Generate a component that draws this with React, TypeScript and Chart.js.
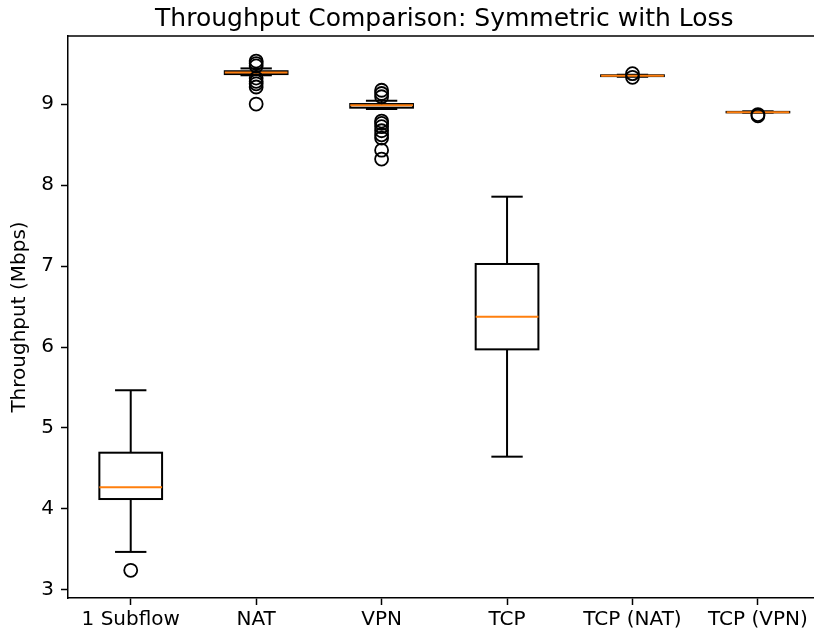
import { useEffect, useRef } from 'react';
import { Chart, registerables } from 'chart.js';

Chart.register(...registerables);

const categories = ['1 Subflow', 'NAT', 'VPN', 'TCP', 'TCP (NAT)', 'TCP (VPN)'];
const whiskerLow = [3.47, 9.355, 8.94, 4.646, 9.337, 8.893];
const q1 = [4.123, 9.37, 8.955, 5.971, 9.345, 8.897];
const median = [4.268, 9.39, 8.985, 6.374, 9.35, 8.9];
const q3 = [4.695, 9.405, 9.0, 7.025, 9.355, 8.903];
const whiskerHigh = [5.466, 9.44, 9.04, 7.856, 9.363, 8.91];
const outliers = [
  [3.243],
  [9.53, 9.5, 9.47, 9.32, 9.28, 9.25, 9.21, 9.0],
  [9.17, 9.13, 9.09, 8.79, 8.76, 8.72, 8.67, 8.62, 8.58, 8.43, 8.32],
  [],
  [9.375, 9.33],
  [8.87, 8.855],
];
const yTicks = [3, 4, 5, 6, 7, 8, 9];
const titleText = 'Throughput Comparison: Symmetric with Loss';
const yLabel = 'Throughput (Mbps)';

const FONT = 'DejaVu Sans';
const BOX_HALF = 0.25;
const CAP_HALF = 0.125;
const LW = 2;

const boxPlugin = {
  id: 'boxes',
  beforeDatasetsDraw(chart: any) {
    const { ctx, scales } = chart;
    const x = scales.x;
    const y = scales.y;
    const line = (x1: number, y1: number, x2: number, y2: number) => {
      ctx.beginPath();
      ctx.moveTo(x1, y1);
      ctx.lineTo(x2, y2);
      ctx.stroke();
    };
    ctx.save();
    ctx.lineWidth = LW;
    ctx.strokeStyle = '#000';
    categories.forEach((_, i) => {
      const c = i + 1;
      const xl = x.getPixelForValue(c - BOX_HALF);
      const xr = x.getPixelForValue(c + BOX_HALF);
      const cl = x.getPixelForValue(c - CAP_HALF);
      const cr = x.getPixelForValue(c + CAP_HALF);
      const xc = x.getPixelForValue(c);
      const yq1 = y.getPixelForValue(q1[i]);
      const yq3 = y.getPixelForValue(q3[i]);
      const ywl = y.getPixelForValue(whiskerLow[i]);
      const ywh = y.getPixelForValue(whiskerHigh[i]);
      const ym = y.getPixelForValue(median[i]);
      ctx.strokeStyle = '#000';
      line(xc, yq3, xc, ywh);
      line(xc, yq1, xc, ywl);
      line(cl, ywh, cr, ywh);
      line(cl, ywl, cr, ywl);
      ctx.strokeRect(xl, yq3, xr - xl, yq1 - yq3);
      ctx.strokeStyle = '#ff7f0e';
      line(xl, ym, xr, ym);
    });
    ctx.restore();
  },
  afterDraw(chart: any) {
    const { ctx, chartArea, scales } = chart;
    ctx.save();
    ctx.strokeStyle = '#000';
    ctx.lineWidth = 1.5;
    ctx.beginPath();
    ctx.moveTo(chartArea.left, chartArea.top);
    ctx.lineTo(chartArea.right, chartArea.top);
    ctx.stroke();
    ctx.fillStyle = '#000';
    ctx.font = `25px "${FONT}"`;
    ctx.textAlign = 'center';
    ctx.textBaseline = 'alphabetic';
    ctx.fillText(titleText, scales.x.getPixelForValue(3.5), 26);
    ctx.restore();
  },
};

export default function App() {
  const ref = useRef<HTMLCanvasElement | null>(null);
  useEffect(() => {
    if (!ref.current) return;
    Chart.defaults.font.family = FONT;
    const points: { x: number; y: number }[] = [];
    outliers.forEach((arr, i) => arr.forEach((v) => points.push({ x: i + 1, y: v })));
    const chart = new Chart(ref.current, {
      type: 'scatter',
      data: {
        datasets: [
          {
            data: points,
            pointStyle: 'circle',
            pointRadius: 6.5,
            pointBorderWidth: 1.8,
            pointBorderColor: '#000',
            pointBackgroundColor: 'rgba(0,0,0,0)',
            pointHoverRadius: 6.5,
          } as any,
        ],
      },
      options: {
        animation: false,
        responsive: false,
        events: [],
        layout: { autoPadding: false, padding: { top: 36, left: 0, right: 0, bottom: 0 } },
        plugins: { legend: { display: false }, tooltip: { enabled: false } },
        scales: {
          x: {
            type: 'linear',
            min: 0.5,
            max: 6.447,
            afterBuildTicks: (s: any) => {
              s.ticks = categories.map((_, i) => ({ value: i + 1 }));
            },
            afterFit: (s: any) => {
              s.height = 34;
              s.paddingLeft = 0;
              s.paddingRight = 0;
            },
            ticks: {
              callback: (v: any) => categories[Number(v) - 1] ?? '',
              autoSkip: false,
              maxRotation: 0,
              minRotation: 0,
              color: '#000',
              font: { size: 20 },
              padding: 3,
            },
            grid: {
              display: true,
              drawOnChartArea: false,
              drawTicks: true,
              tickLength: 7,
              tickColor: '#000',
              tickWidth: 1.5,
            },
            border: { display: true, color: '#000', width: 1.5 },
          },
          y: {
            type: 'linear',
            min: 2.901,
            max: 9.84,
            afterBuildTicks: (s: any) => {
              s.ticks = yTicks.map((v) => ({ value: v }));
            },
            afterFit: (s: any) => {
              s.width = 68;
              s.paddingTop = 0;
              s.paddingBottom = 0;
            },
            ticks: {
              color: '#000',
              font: { size: 20 },
              padding: 7,
              callback: (v: any) => String(v),
            },
            grid: {
              display: true,
              drawOnChartArea: false,
              drawTicks: true,
              tickLength: 7,
              tickColor: '#000',
              tickWidth: 1.5,
            },
            border: { display: true, color: '#000', width: 1.5 },
            title: {
              display: true,
              text: yLabel,
              color: '#000',
              font: { size: 20 },
              padding: { top: 8, bottom: 0 },
            },
          },
        },
      },
      plugins: [boxPlugin],
    });
    return () => chart.destroy();
  }, []);
  return (
    <div style={{ position: 'fixed', left: 0, top: 0, width: 814, height: 632, background: '#fff' }}>
      <canvas ref={ref} width={814} height={632} />
    </div>
  );
}
